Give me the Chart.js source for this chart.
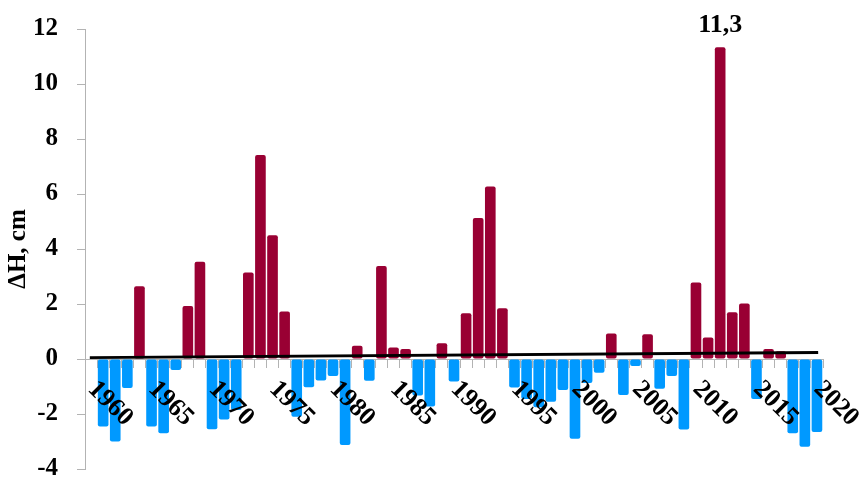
<!DOCTYPE html>
<html>
<head>
<meta charset="utf-8">
<script src="https://cdn.jsdelivr.net/npm/chart.js@4.4.0/dist/chart.umd.min.js"></script>
<style>
  html, body { margin: 0; padding: 0; background: #fff; }
  #wrap { width: 863px; height: 477px; }
</style>
</head>
<body>
<div id="wrap"><canvas id="grafico"></canvas></div>
<script>
// anos (cada barra ocupa o intervalo [ano, ano+1])
const anos = [
  1960, 1961, 1962, 1963, 1964, 1965, 1966, 1967, 1968, 1969,
  1970, 1971, 1972, 1973, 1974, 1975, 1976, 1977, 1978, 1979,
  1980, 1981, 1982, 1983, 1984, 1985, 1986, 1987, 1988, 1989,
  1990, 1991, 1992, 1993, 1994, 1995, 1996, 1997, 1998, 1999,
  2000, 2001, 2002, 2003, 2004, 2005, 2006, 2007, 2008, 2009,
  2010, 2011, 2012, 2013, 2014, 2015, 2016, 2017, 2018, 2019
];

// ΔH, cm
const valores = [
  -2.45, -3.0, -1.05, 2.65, -2.45, -2.7, -0.4, 1.93, 3.54, -2.55,
  -2.2, -1.85, 3.15, 7.42, 4.5, 1.73, -2.1, -1.03, -0.78, -0.62,
  -3.13, 0.48, -0.79, 3.38, 0.42, 0.36, -1.33, -1.73, 0.57, -0.82,
  1.66, 5.13, 6.27, 1.85, -1.04, -1.45, -1.75, -1.55, -1.13, -2.9,
  -0.87, -0.5, 0.93, -1.31, -0.25, 0.9, -1.08, -0.62, -2.56, 2.78,
  0.78, 11.34, 1.7, 2.02, -1.45, 0.36, 0.28, -2.7, -3.19, -2.65
];

const rotulosX = [1960, 1965, 1970, 1975, 1980, 1985, 1990, 1995, 2000, 2005, 2010, 2015, 2020];

// linha de tendencia
const tendenciaX = [1959.4, 2019.6];
const tendenciaY = [0.05, 0.24];

const yMin = -4;
const yMax = 12;
const yPasso = 2;

const corPositiva = '#990033';
const corNegativa = '#0099ff';
const corEixo = '#b3b3b3';
const fonte = '"Liberation Serif", "Times New Roman", serif';

const rotulosPlugin = {
  id: 'rotulos',
  afterDatasetsDraw(chart) {
    const ctx = chart.ctx;
    const x = chart.scales.x;
    const y = chart.scales.y;
    const y0 = y.getPixelForValue(0);

    ctx.save();
    ctx.fillStyle = '#000';
    ctx.font = 'bold 26px ' + fonte;
    ctx.textAlign = 'left';
    ctx.textBaseline = 'alphabetic';
    rotulosX.forEach(ano => {
      const px = x.getPixelForValue(ano);
      ctx.save();
      ctx.translate(px - 10, y0 + 31);
      ctx.rotate(Math.PI / 4);
      ctx.fillText(String(ano), 0, 0);
      ctx.restore();
    });

    // valor do pico
    const maximo = Math.max(...valores);
    const i = valores.indexOf(maximo);
    const barra = chart.getDatasetMeta(1).data[i];
    ctx.font = 'bold 26px ' + fonte;
    ctx.textAlign = 'center';
    ctx.textBaseline = 'bottom';
    ctx.fillText(maximo.toFixed(1).replace('.', ','), barra.x, barra.y - 9);
    ctx.restore();
  }
};

function construirGrafico() {
  const ctx = document.getElementById('grafico').getContext('2d');

  new Chart(ctx, {
    type: 'bar',
    data: {
      datasets: [
        {
          type: 'line',
          data: tendenciaX.map((v, i) => ({ x: v, y: tendenciaY[i] })),
          borderColor: '#000',
          borderWidth: 3,
          pointRadius: 0,
          order: 0
        },
        {
          type: 'bar',
          data: anos.map((a, i) => ({ x: a + 0.5, y: valores[i] })),
          backgroundColor: valores.map(v => v >= 0 ? corPositiva : corNegativa),
          borderRadius: 2,
          borderSkipped: false,
          categoryPercentage: 1,
          barPercentage: 0.88,
          order: 1
        }
      ]
    },
    options: {
      responsive: true,
      maintainAspectRatio: false,
      animation: false,
      layout: { padding: { left: 0, right: 40, top: 29, bottom: 8 } },
      plugins: {
        legend: { display: false },
        tooltip: { enabled: false }
      },
      scales: {
        x: {
          type: 'linear',
          position: { y: 0 },
          min: 1959,
          max: 2020,
          offset: false,
          ticks: { display: false, stepSize: 1, autoSkip: false },
          grid: { offset: false, drawOnChartArea: false, drawTicks: true, tickLength: 8, color: corEixo },
          border: { color: corEixo, width: 1 },
          afterFit(s) { s.paddingLeft = 0; s.paddingRight = 0; s.paddingTop = 0; s.paddingBottom = 0; }
        },
        y: {
          min: yMin,
          max: yMax,
          ticks: {
            stepSize: yPasso,
            color: '#000',
            padding: 19,
            font: { family: fonte, size: 25, weight: 'bold' }
          },
          grid: { drawOnChartArea: false, tickLength: 8, color: corEixo },
          border: { color: corEixo },
          title: {
            display: true,
            text: 'ΔH, cm',
            color: '#000',
            padding: { top: 4, bottom: 0 },
            font: { family: fonte, size: 25, weight: 'bold' }
          },
          afterFit(s) { s.width = 85; s.paddingTop = 0; s.paddingBottom = 0; }
        }
      }
    },
    plugins: [rotulosPlugin]
  });
}

construirGrafico();
</script>
</body>
</html>
